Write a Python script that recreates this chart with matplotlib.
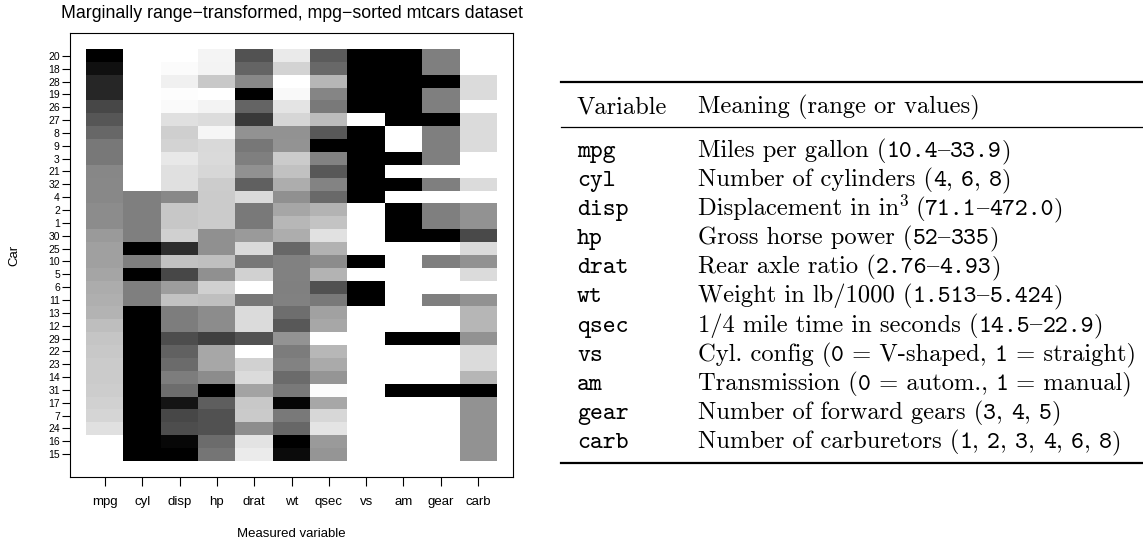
import re
import matplotlib
matplotlib.use('Agg')
import matplotlib.pyplot as plt
import numpy as np

plt.rcParams['font.family'] = ['Liberation Sans', 'DejaVu Sans']

# mtcars, cars 1..32 in dataset order
mpg = [21.0, 21.0, 22.8, 21.4, 18.7, 18.1, 14.3, 24.4, 22.8, 19.2, 17.8, 16.4, 17.3, 15.2, 10.4, 10.4,
       14.7, 32.4, 30.4, 33.9, 21.5, 15.5, 15.2, 13.3, 19.2, 27.3, 26.0, 30.4, 15.8, 19.7, 15.0, 21.4]
cyl = [6, 6, 4, 6, 8, 6, 8, 4, 4, 6, 6, 8, 8, 8, 8, 8, 8, 4, 4, 4, 4, 8, 8, 8, 8, 4, 4, 4, 8, 6, 8, 4]
disp = [160, 160, 108, 258, 360, 225, 360, 146.7, 140.8, 167.6, 167.6, 275.8, 275.8, 275.8, 472, 460,
        440, 78.7, 75.7, 71.1, 120.1, 318, 304, 350, 400, 79, 120.3, 95.1, 351, 145, 301, 121]
hp = [110, 110, 93, 110, 175, 105, 245, 62, 95, 123, 123, 180, 180, 180, 205, 215,
      230, 66, 52, 65, 97, 150, 150, 245, 175, 66, 91, 113, 264, 175, 335, 109]
drat = [3.90, 3.90, 3.85, 3.08, 3.15, 2.76, 3.21, 3.69, 3.92, 3.92, 3.92, 3.07, 3.07, 3.07, 2.93, 3.00,
        3.23, 4.08, 4.93, 4.22, 3.70, 2.76, 3.15, 3.73, 3.08, 4.08, 4.43, 3.77, 4.22, 3.62, 3.54, 4.11]
wt = [2.620, 2.875, 2.320, 3.215, 3.440, 3.460, 3.570, 3.190, 3.150, 3.440, 3.440, 4.070, 3.730, 3.780,
      5.250, 5.424, 5.345, 2.200, 1.615, 1.835, 2.465, 3.520, 3.435, 3.840, 3.845, 1.935, 2.140, 1.513,
      3.170, 2.770, 3.570, 2.780]
qsec = [16.46, 17.02, 18.61, 19.44, 17.02, 20.22, 15.84, 20.00, 22.90, 18.30, 18.90, 17.40, 17.60, 18.00,
        17.98, 17.82, 17.42, 19.47, 18.52, 19.90, 20.01, 16.87, 17.30, 15.41, 17.05, 18.90, 16.70, 16.90,
        14.50, 15.50, 14.60, 18.60]
vs = [0, 0, 1, 1, 0, 1, 0, 1, 1, 1, 1, 0, 0, 0, 0, 0, 0, 1, 1, 1, 1, 0, 0, 0, 0, 1, 0, 1, 0, 0, 0, 1]
am = [1, 1, 1, 0, 0, 0, 0, 0, 0, 0, 0, 0, 0, 0, 0, 0, 0, 1, 1, 1, 0, 0, 0, 0, 0, 1, 1, 1, 1, 1, 1, 1]
gear = [4, 4, 4, 3, 3, 3, 3, 4, 4, 4, 4, 3, 3, 3, 3, 3, 3, 4, 4, 4, 3, 3, 3, 3, 3, 4, 5, 5, 5, 5, 5, 4]
carb = [4, 4, 1, 1, 2, 1, 4, 2, 2, 4, 4, 3, 3, 3, 4, 4, 4, 1, 2, 1, 1, 2, 2, 4, 2, 1, 2, 2, 4, 6, 8, 2]

variables = ['mpg', 'cyl', 'disp', 'hp', 'drat', 'wt', 'qsec', 'vs', 'am', 'gear', 'carb']
# `...` = typewriter, ^...^ = superscript
meanings = [
    'Miles per gallon (`10.4`–`33.9`)',
    'Number of cylinders (`4`, `6`, `8`)',
    'Displacement in in^3^ (`71.1`–`472.0`)',
    'Gross horse power (`52`–`335`)',
    'Rear axle ratio (`2.76`–`4.93`)',
    'Weight in lb/1000 (`1.513`–`5.424`)',
    '1/4 mile time in seconds (`14.5`–`22.9`)',
    'Cyl. config (`0` = V-shaped, `1` = straight)',
    'Transmission (`0` = autom., `1` = manual)',
    'Number of forward gears (`3`, `4`, `5`)',
    'Number of carburetors (`1`, `2`, `3`, `4`, `6`, `8`)',
]

W, H = 1143, 544
fig = plt.figure(figsize=(W / 100, H / 100), dpi=100)


def fx(px):
    return px / W


def fy(py):
    return 1 - py / H


# range transform every column, sort cars by mpg (highest on top)
data = np.column_stack([mpg, cyl, disp, hp, drat, wt, qsec, vs, am, gear, carb]).astype(float)
scaled = (data - data.min(axis=0)) / (data.max(axis=0) - data.min(axis=0))
order = np.argsort(mpg, kind='stable')[::-1]
cars = np.arange(1, 33)[order]

ax = fig.add_axes([fx(70), fy(477), fx(513) - fx(70), fy(33) - fy(477)])
ax.imshow(scaled[order], cmap='gray_r', vmin=0, vmax=1, aspect='auto', interpolation='nearest',
          extent=(0.5, 11.5, 32.5, 0.5))
ax.set_xlim(0.5 - 0.44, 11.5 + 0.44)
ax.set_ylim(32.5 + 1.28, 0.5 - 1.28)
ax.set_xticks(np.arange(1, 12))
ax.set_xticklabels(variables, fontsize=9.5)
ax.set_yticks(np.arange(1, 33))
ax.set_yticklabels([str(c) for c in cars], fontsize=7.5)
ax.tick_params(axis='x', length=6.5, width=0.8, pad=7)
ax.tick_params(axis='y', length=5.8, width=0.8, pad=1.5)
for s in ax.spines.values():
    s.set_linewidth(0.8)

fig.text(fx(291.5), fy(18), 'Marginally range−transformed, mpg−sorted mtcars dataset',
         ha='center', va='baseline', fontsize=12.8)
fig.text(fx(291.5), fy(534), 'Measured variable', ha='center', va='center', fontsize=9.5)
fig.text(fx(14.5), fy(255), 'Car', ha='center', va='center', rotation=90, fontsize=9.5)

# table on the right, LaTeX look with the bundled Computer Modern fonts
fs = 17.7
renderer = fig.canvas.get_renderer()


def seg_width(s, fam, size):
    # bars around the text so that spaces at the ends are counted
    t1 = fig.text(0, 0, '|' + s + '|', family=fam, fontsize=size)
    t2 = fig.text(0, 0, '||', family=fam, fontsize=size)
    w = t1.get_window_extent(renderer).width - t2.get_window_extent(renderer).width
    t1.remove()
    t2.remove()
    return w


def draw_line(x, y, s):
    for part in re.split(r'(`[^`]*`|\^[^^]*\^)', s):
        if not part:
            continue
        dy, size = 0, fs
        if part.startswith('`'):
            txt, fam = part[1:-1], 'cmtt10'
        elif part.startswith('^'):
            txt, fam = part[1:-1], 'cmr10'
            size = fs * 0.7
            dy = 0.36 * fs * 100 / 72
        else:
            # cmr10 keeps the en dash in the '{' slot
            txt, fam = part.replace('–', '{'), 'cmr10'
        fig.text(fx(x), fy(y - dy), txt, family=fam, fontsize=size, va='baseline')
        x += seg_width(txt, fam, size)


fig.add_artist(plt.Line2D([fx(561), fx(1143)], [fy(82), fy(82)], color='black', lw=1.6))
fig.add_artist(plt.Line2D([fx(561), fx(1143)], [fy(127), fy(127)], color='black', lw=0.9))
fig.add_artist(plt.Line2D([fx(561), fx(1143)], [fy(463), fy(463)], color='black', lw=1.6))
draw_line(577, 113, 'Variable')
draw_line(698, 113, 'Meaning (range or values)')
for i, (v, m) in enumerate(zip(variables, meanings)):
    yb = 157 + i * 29.1
    draw_line(577, yb, '`' + v + '`')
    draw_line(698, yb, m)

fig.savefig('out.png', dpi=100)
